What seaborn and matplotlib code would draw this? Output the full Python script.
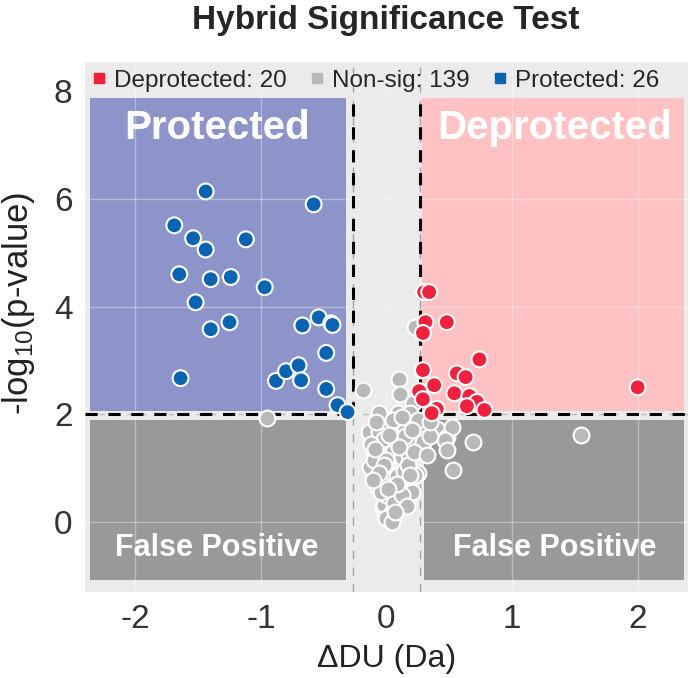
import numpy as np
import pandas as pd
import matplotlib.pyplot as plt
import seaborn as sns
from matplotlib.lines import Line2D
from matplotlib.patches import Rectangle

## Points (x = delta DU in Da, y = -log10 p)
protected_x = [-1.44, -0.58, -1.69, -1.54, -1.44, -1.12, -1.65, -1.40, -1.24, -0.97,
               -1.52, -1.40, -1.25, -0.67, -0.54, -0.44, -0.48, -1.64, -0.88, -0.80,
               -0.70, -0.68, -0.48, -0.39, -0.31, -0.43]
protected_y = [6.14, 5.90, 5.51, 5.27, 5.06, 5.25, 4.60, 4.51, 4.55, 4.36,
               4.08, 3.58, 3.71, 3.65, 3.80, 3.69, 3.14, 2.67, 2.62, 2.80,
               2.91, 2.63, 2.47, 2.17, 2.04, 3.66]

deprotected_x = [0.30, 0.34, 0.31, 0.48, 0.29, 0.74, 0.29, 0.56, 0.63, 0.38,
                 0.26, 0.54, 0.29, 0.66, 0.72, 0.64, 0.40, 0.36, 0.78, 2.00]
deprotected_y = [4.27, 4.27, 3.71, 3.71, 3.51, 3.02, 2.82, 2.76, 2.69, 2.54,
                 2.43, 2.39, 2.28, 2.34, 2.23, 2.15, 2.10, 2.02, 2.08, 2.50]

nonsig_x = [-0.95, 0.23, -0.19, 0.10, 0.11, 0.21, -0.06, 0.09, 0.19, -0.14,
            -0.06, 0.13, 0.27, -0.02, 0.07, 0.21, 0.29, 0.40, 0.48, 0.25,
            0.03, -0.10, 0.05, 0.21, 0.29, -0.13, -0.03, 0.13, 0.25, 0.03,
            -0.07, 0.15, 0.01, 0.17, -0.03, 0.11, -0.01, 0.06, 0.09, 0.52,
            0.47, 0.48, 0.69, 0.53, 1.55, 0.29, 0.23, -0.05, 0.03, 0.10,
            -0.02, 0.03, 0.02, 0.00, -0.05, 0.08, 0.12, -0.10, 0.00, 0.18,
            -0.12, 0.15, 0.05, -0.08, 0.20, 0.05, -0.04, 0.14, 0.10, -0.02,
            0.06, 0.00, 0.04, 0.12, -0.06, 0.17, 0.22, 0.32, 0.35, 0.12,
            0.20, 0.35, 0.08, -0.09, 0.16, 0.02, -0.11, 0.07, 0.19, 0.01]
nonsig_y = [1.93, 3.62, 2.45, 2.65, 2.37, 2.21, 2.02, 2.02, 2.02, 1.67,
            1.67, 1.76, 1.71, 1.54, 1.56, 1.56, 1.54, 1.73, 1.58, 1.89,
            1.80, 1.30, 1.30, 1.48, 1.47, 1.02, 0.98, 1.09, 0.91, 0.82,
            0.65, 0.72, 0.41, 0.41, 0.28, 0.26, 0.13, 0.59, 0.45, 1.76,
            1.52, 1.34, 1.48, 0.96, 1.61, 1.48, 0.87, 1.00, 0.87, 0.65,
            0.32, 0.13, 0.04, 0.50, 0.75, 0.85, 1.20, 1.15, 1.15, 1.25,
            1.45, 1.60, 1.90, 1.85, 0.55, 0.20, 0.55, 0.95, 1.40, 1.05,
            0.35, 0.08, 0.00, 0.50, 0.90, 1.05, 1.30, 1.25, 1.60, 1.95,
            1.70, 1.85, 0.70, 1.35, 0.30, 1.62, 0.78, 0.18, 0.88, 0.62]

legend_labels = ["Deprotected: 20", "Non-sig: 139", "Protected: 26"]

## colours
c_prot = "#0A64B4"
c_deprot = "#F2203C"
c_ns = "#B9B9B9"

df = pd.DataFrame({
    "du": protected_x + deprotected_x + nonsig_x,
    "p": protected_y + deprotected_y + nonsig_y,
    "group": ["Protected"] * len(protected_x) + ["Deprotected"] * len(deprotected_x)
             + ["Non-sig"] * len(nonsig_x),
})

sns.set_theme(style="darkgrid", rc={"axes.facecolor": "#EBEBEB", "grid.color": "white"})
plt.rcParams["font.family"] = ["Liberation Sans", "DejaVu Sans"]
plt.rcParams["mathtext.fontset"] = "custom"
plt.rcParams["mathtext.rm"] = "Liberation Sans"
plt.rcParams["mathtext.it"] = "Liberation Sans"

fig = plt.figure(figsize=(6.92, 6.78), dpi=100)
ax = fig.add_axes([0.123, 0.127, 0.871, 0.782])

xmin, xmax = -2.40, 2.40
ymin, ymax = -1.30, 8.55
thr_x, thr_y = 0.27, 2.0

## background regions
ax.add_patch(Rectangle((-2.36, 2.06), 2.04, 5.81, color="#8C94C9", zorder=0.3, lw=0))
ax.add_patch(Rectangle((0.285, 2.06), 2.085, 5.81, color="#FFC1C1", zorder=0.3, lw=0))
ax.add_patch(Rectangle((-2.36, -1.08), 2.04, 2.98, color="#999999", zorder=0.3, lw=0))
ax.add_patch(Rectangle((0.30, -1.08), 2.07, 2.98, color="#999999", zorder=0.3, lw=0))
ax.grid(True, color="white", alpha=0.35, lw=1)
ax.set_axisbelow(True)

## thin dashed threshold lines
for xv in (-thr_x, thr_x):
    ax.axvline(xv, color="#A0A0A0", lw=1, ls=(0, (6, 6)), zorder=1)
ax.axhline(thr_y, color="#BBBBBB", lw=1, ls=(0, (4, 6)), zorder=1)
## thick black dashed lines around significant zones
ax.plot([xmin, -thr_x], [thr_y, thr_y], color="black", lw=2.2, ls=(0, (4, 3.5)), zorder=1.5)
ax.plot([thr_x, xmax], [thr_y, thr_y], color="black", lw=2.2, ls=(0, (4, 3.5)), zorder=1.5)
ax.plot([-thr_x, -thr_x], [thr_y, 7.95], color="black", lw=2.2, ls=(0, (4, 3.5)), zorder=1.5)
ax.plot([thr_x, thr_x], [thr_y, 7.95], color="black", lw=2.2, ls=(0, (4, 3.5)), zorder=1.5)

sns.scatterplot(data=df[df.group == "Non-sig"], x="du", y="p", color=c_ns, s=130,
                edgecolor="white", linewidth=1.5, ax=ax, zorder=2, legend=False)
sns.scatterplot(data=df[df.group != "Non-sig"], x="du", y="p", hue="group",
                palette={"Protected": c_prot, "Deprotected": c_deprot}, s=130,
                edgecolor="white", linewidth=1.5, ax=ax, zorder=3, legend=False)

## region labels
ax.text(-1.35, 7.31, "Protected", color="white", fontsize=29, fontweight="bold",
        ha="center", va="center", zorder=4)
ax.text(1.34, 7.31, "Deprotected", color="white", fontsize=29, fontweight="bold",
        ha="center", va="center", zorder=4)
ax.text(-1.35, -0.48, "False Positive", color="white", fontsize=22, fontweight="bold",
        ha="center", va="center", zorder=4)
ax.text(1.34, -0.48, "False Positive", color="white", fontsize=22, fontweight="bold",
        ha="center", va="center", zorder=4)

ax.set_xlim(xmin, xmax)
ax.set_ylim(ymin, ymax)
ax.set_xticks([-2, -1, 0, 1, 2])
ax.set_xticklabels(["-2", "-1", "0", "1", "2"])
ax.set_yticks([0, 2, 4, 6, 8])
ax.tick_params(axis="both", length=5, width=1, color="#999999", labelsize=24,
               labelcolor="#333333", pad=4)
ax.set_xlabel("ΔDU (Da)", fontsize=23, color="#222222", labelpad=6)
ax.set_ylabel("-log$_{10}$(p-value)", fontsize=25, color="#222222")
ax.yaxis.set_label_coords(-0.08, 0.545)
for s in ax.spines.values():
    s.set_visible(False)

handles = [Line2D([], [], marker="s", ls="", color=c, markersize=7.5)
           for c in (c_deprot, c_ns, c_prot)]
ax.legend(handles, legend_labels, loc="center left", bbox_to_anchor=(0.0114, 0.9636), ncol=3,
          frameon=False, fontsize=17.5, handlelength=0.6, handletextpad=0.32,
          columnspacing=0.93, borderpad=0, borderaxespad=0)

fig.suptitle("Hybrid Significance Test", fontsize=24, fontweight="bold", x=0.558,
             y=0.9705, va="center")

plt.savefig("out.png", dpi=100)
